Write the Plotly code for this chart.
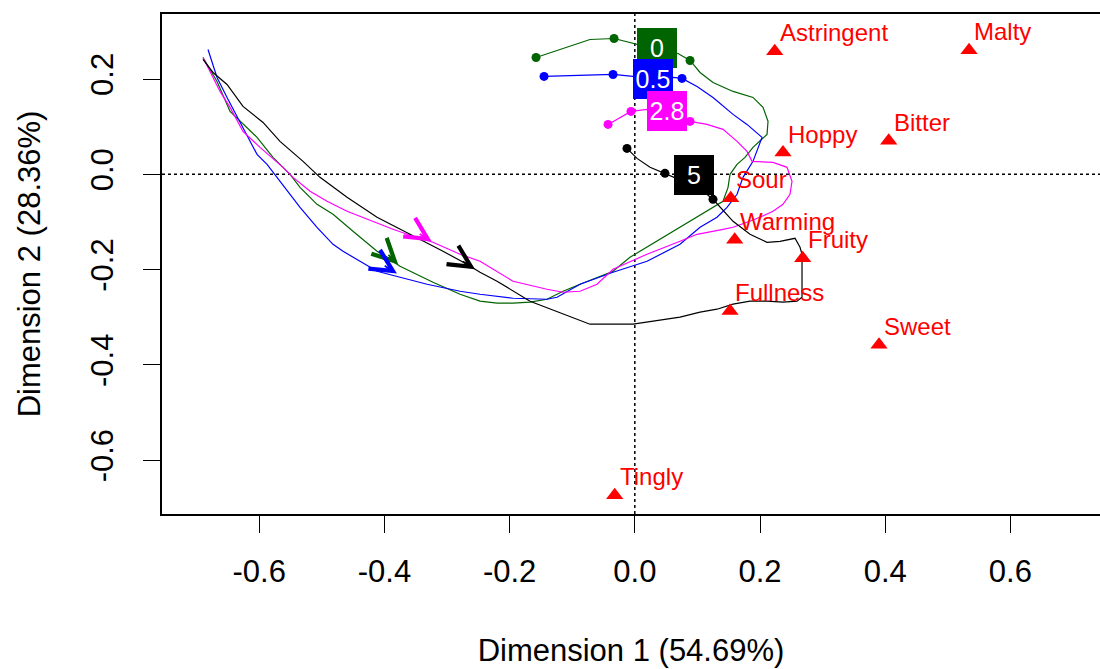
import plotly.graph_objects as go

# ---------------- data ----------------
attr_names = ["Astringent", "Malty", "Bitter", "Hoppy", "Sour", "Warming",
              "Fruity", "Fullness", "Sweet", "Tingly"]
attr_x = [0.2235, 0.5339, 0.4056, 0.2367, 0.1532, 0.1596, 0.2682, 0.1521, 0.3901, -0.0321]
attr_y = [0.2585, 0.2604, 0.0704, 0.0457, -0.0503, -0.1373, -0.1759, -0.2870, -0.3577, -0.6736]

levels = ["0", "0.5", "2.8", "5"]
level_colors = ["#006400", "#0000FF", "#FF00FF", "#000000"]
label_x = [0.0355, 0.0291, 0.0514, 0.0938]
label_y = [0.2662, 0.2002, 0.1321, -0.0021]

traj_0_x = [-0.1578, -0.0716, -0.0332, 0.0035, 0.0355, 0.0690, 0.0882, 0.1042, 0.1249, 0.1569,
            0.1888, 0.2048, 0.2128, 0.2112, 0.2000, 0.1888, 0.1760, 0.1633, 0.1521, 0.1489,
            0.1409, 0.1249, 0.0994, 0.0722, 0.0195, -0.0077, -0.0348, -0.0604, -0.0875, -0.1147,
            -0.1403, -0.1674, -0.1946, -0.2201, -0.2473, -0.2792, -0.3224, -0.3751, -0.4118, -0.4502,
            -0.4821, -0.5077, -0.5348, -0.5508, -0.5780, -0.6035, -0.6307, -0.6466, -0.6674, -0.6898]
traj_0_y = [0.2453, 0.2830, 0.2851, 0.2725, 0.2621, 0.2537, 0.2390, 0.2138, 0.1929, 0.1740,
            0.1614, 0.1405, 0.1111, 0.0839, 0.0692, 0.0566, 0.0356, 0.0210, 0.0, -0.0273,
            -0.0566, -0.0692, -0.0901, -0.1111, -0.1530, -0.1740, -0.2034, -0.2159, -0.2306, -0.2453,
            -0.2621, -0.2683, -0.2704, -0.2704, -0.2662, -0.2516, -0.2264, -0.1929, -0.1614, -0.1195,
            -0.0839, -0.0629, -0.0273, 0.0, 0.0356, 0.0776, 0.1111, 0.1321, 0.1950, 0.2453]

traj_05_x = [-0.1450, -0.0348, -0.0029, 0.0291, 0.0610, 0.0754, 0.0994, 0.1249, 0.1569, 0.1792,
             0.2032, 0.1888, 0.1728, 0.1633, 0.1473, 0.1313, 0.1042, 0.0722, 0.0195, -0.0348,
             -0.0875, -0.1243, -0.1403, -0.1946, -0.2473, -0.2792, -0.3319, -0.3751, -0.4118, -0.4390,
             -0.4661, -0.4821, -0.5077, -0.5348, -0.5508, -0.5764, -0.5875, -0.6035, -0.6147, -0.6307,
             -0.6514, -0.6674, -0.6818]
traj_05_y = [0.2055, 0.2096, 0.2055, 0.2013, 0.2034, 0.2013, 0.1845, 0.1614, 0.1258, 0.1048,
             0.0776, 0.0273, -0.0063, -0.0419, -0.0692, -0.0901, -0.1111, -0.1468, -0.1824, -0.2055,
             -0.2306, -0.2579, -0.2621, -0.2600, -0.2516, -0.2453, -0.2306, -0.2159, -0.2034, -0.1824,
             -0.1614, -0.1468, -0.1111, -0.0692, -0.0419, 0.0, 0.0210, 0.0419, 0.0692, 0.1111,
             0.1614, 0.2034, 0.2621]

traj_28_x = [-0.0428, -0.0061, 0.0195, 0.0514, 0.0834, 0.0882, 0.1153, 0.1409, 0.1633, 0.1792,
             0.1872, 0.2208, 0.2431, 0.2511, 0.2479, 0.2367, 0.2208, 0.2000, 0.1792, 0.1569,
             0.1409, 0.1249, 0.0994, 0.0722, 0.0195, -0.0348, -0.0604, -0.0875, -0.1147, -0.1403,
             -0.1946, -0.2473, -0.2792, -0.3224, -0.3543, -0.3863, -0.4278, -0.4597, -0.4917, -0.5188,
             -0.5460, -0.5620, -0.5987, -0.6259, -0.6466, -0.6626, -0.6786, -0.6898]
traj_28_y = [0.1048, 0.1321, 0.1363, 0.1321, 0.1132, 0.1111, 0.1048, 0.0943, 0.0692, 0.0482,
             0.0273, 0.0252, 0.0147, -0.0147, -0.0419, -0.0629, -0.0776, -0.0901, -0.1006, -0.1111,
             -0.1153, -0.1195, -0.1258, -0.1405, -0.1677, -0.1992, -0.2306, -0.2453, -0.2474, -0.2411,
             -0.2243, -0.1824, -0.1677, -0.1426, -0.1300, -0.1153, -0.0943, -0.0776, -0.0566, -0.0356,
             -0.0063, 0.0147, 0.0566, 0.0901, 0.1405, 0.1740, 0.2159, 0.2453]

traj_5_x = [-0.0125, 0.0035, 0.0243, 0.0482, 0.0626, 0.0938, 0.1169, 0.1249, 0.1569, 0.1840,
            0.2112, 0.2319, 0.2559, 0.2639, 0.2671, 0.2671, 0.2591, 0.2367, 0.2112, 0.1840,
            0.1569, 0.1313, 0.1042, 0.0722, 0.0195, -0.0029, -0.0716, -0.1147, -0.1674, -0.2201,
            -0.2473, -0.2681, -0.3064, -0.3591, -0.4118, -0.4597, -0.5029, -0.5300, -0.5668, -0.5939,
            -0.6259, -0.6514, -0.6738, -0.6898]
traj_5_y = [0.0545, 0.0335, 0.0147, 0.0021, -0.0063, -0.0021, -0.0440, -0.0524, -0.0985, -0.1258,
            -0.1426, -0.1405, -0.1342, -0.1530, -0.1677, -0.2579, -0.2662, -0.2683, -0.2662, -0.2662,
            -0.2725, -0.2830, -0.2893, -0.2998, -0.3103, -0.3145, -0.3145, -0.2935, -0.2662, -0.2243,
            -0.2055, -0.1887, -0.1614, -0.1258, -0.0901, -0.0482, -0.0063, 0.0273, 0.0692, 0.1090,
            0.1426, 0.1887, 0.2138, 0.2411]

traj_x = [traj_0_x, traj_05_x, traj_28_x, traj_5_x]
traj_y = [traj_0_y, traj_05_y, traj_28_y, traj_5_y]
dot_index = [[0, 2, 6], [0, 1, 5], [0, 1, 5], [0, 3, 7]]

arrow_tip_x = [-0.378, -0.380, -0.3244, -0.2553]
arrow_tip_y = [-0.189, -0.208, -0.1411, -0.1992]
arrow_tail_x = [-0.396, -0.402, -0.346, -0.277]
arrow_tail_y = [-0.166, -0.190, -0.123, -0.181]

x_ticks = [-0.6, -0.4, -0.2, 0.0, 0.2, 0.4, 0.6]
x_tick_labels = ["-0.6", "-0.4", "-0.2", "0.0", "0.2", "0.4", "0.6"]
y_ticks = [-0.6, -0.4, -0.2, 0.0, 0.2]
y_tick_labels = ["-0.6", "-0.4", "-0.2", "0.0", "0.2"]

x_title = "Dimension 1 (54.69%)"
y_title = "Dimension 2 (28.36%)"

# ---------------- figure ----------------
FONT = "Arial, 'Liberation Sans', sans-serif"
fig = go.Figure()

for i, lev in enumerate(levels):
    fig.add_trace(go.Scatter(
        x=traj_x[i], y=traj_y[i], mode="lines",
        line=dict(color=level_colors[i], width=1.2),
        hoverinfo="skip", showlegend=False))
    fig.add_trace(go.Scatter(
        x=[traj_x[i][k] for k in dot_index[i]],
        y=[traj_y[i][k] for k in dot_index[i]],
        mode="markers",
        marker=dict(color=level_colors[i], size=9),
        hoverinfo="skip", showlegend=False))

fig.add_trace(go.Scatter(
    x=attr_x, y=attr_y, mode="markers",
    marker=dict(symbol="triangle-up", color="#FF0000", size=15),
    text=attr_names, hoverinfo="text", showlegend=False))

annotations = []
for i in range(len(attr_names)):
    annotations.append(dict(
        x=attr_x[i], y=attr_y[i], xref="x", yref="y", text=attr_names[i],
        showarrow=False, xanchor="left", yanchor="bottom", xshift=3, yshift=3,
        font=dict(family=FONT, size=24, color="#FF0000")))

for i in range(len(levels)):
    annotations.append(dict(
        x=arrow_tip_x[i], y=arrow_tip_y[i], xref="x", yref="y",
        ax=arrow_tail_x[i], ay=arrow_tail_y[i], axref="x", ayref="y",
        text="", showarrow=True, arrowhead=5, arrowsize=2.4, arrowwidth=1.8,
        arrowcolor=level_colors[i], standoff=0))

for i, lev in enumerate(levels):
    annotations.append(dict(
        x=label_x[i], y=label_y[i], xref="x", yref="y", text=lev,
        showarrow=False, xanchor="center", yanchor="middle",
        width=40, height=40, borderpad=0, borderwidth=0,
        bgcolor=level_colors[i],
        font=dict(family=FONT, size=25, color="#FFFFFF")))

shapes = [
    dict(type="line", xref="paper", yref="y", x0=0, x1=1, y0=0, y1=0,
         line=dict(color="black", width=1.5, dash="3px,3px"), layer="below"),
    dict(type="line", xref="x", yref="paper", x0=0, x1=0, y0=0, y1=1,
         line=dict(color="black", width=1.5, dash="3px,3px"), layer="below"),
]

fig.update_layout(
    width=1100, height=669,
    margin=dict(l=162, r=0, t=14, b=155, autoexpand=False),
    paper_bgcolor="white", plot_bgcolor="white",
    font=dict(family=FONT, color="black"),
    annotations=annotations, shapes=shapes,
    xaxis=dict(range=[-0.7553, 0.7431], tickvals=x_ticks, ticktext=x_tick_labels,
               showgrid=False, zeroline=False, showline=True, linecolor="black",
               linewidth=1.5, mirror=True, ticks="outside", ticklen=17, tickwidth=1.3,
               tickcolor="black", tickfont=dict(family=FONT, size=31, color="black"),
               ticklabelstandoff=12, automargin=False,
               title=dict(text=x_title, font=dict(family=FONT, size=31, color="black"), standoff=51)),
    yaxis=dict(range=[-0.7128, 0.3365], tickvals=y_ticks, ticktext=y_tick_labels,
               showgrid=False, zeroline=False, showline=True, linecolor="black",
               linewidth=1.5, ticks="outside", ticklen=17, tickwidth=1.3, tickangle=-90,
               tickcolor="black", tickfont=dict(family=FONT, size=31, color="black"),
               ticklabelstandoff=18, automargin=False,
               title=dict(text=y_title, font=dict(family=FONT, size=31, color="black"), standoff=35)),
)

fig.write_html("out.html", config={"displayModeBar": False},
               post_script="document.body.style.margin='0px';")
